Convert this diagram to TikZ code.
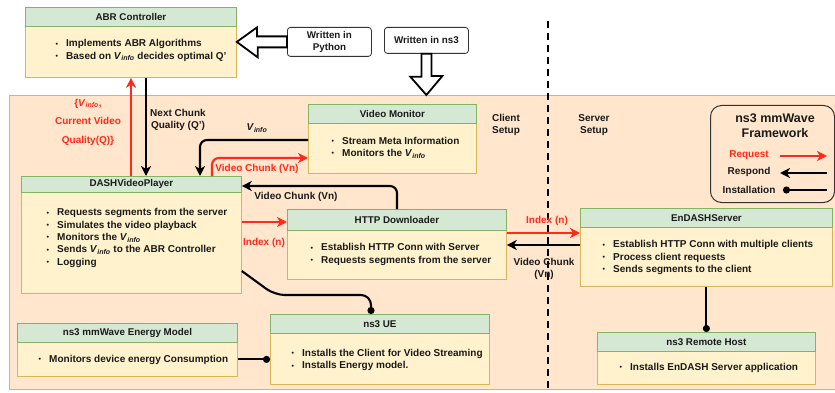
\documentclass[tikz,border=0pt]{standalone}
\usepackage{fontspec}
\setmainfont{Liberation Sans}
\usetikzlibrary{arrows.meta,calc}
\definecolor{hdrfill}{HTML}{D5E8D4}
\definecolor{hdrline}{HTML}{82B366}
\definecolor{bdyfill}{HTML}{FFF2CC}
\definecolor{bdyline}{HTML}{D6B656}
\definecolor{bgfill}{HTML}{FFE6CC}
\definecolor{bgline}{HTML}{E8B440}
\definecolor{myred}{HTML}{FF2A1A}
\definecolor{txtc}{HTML}{1A1A1A}
\definecolor{legline}{HTML}{333333}
\newcommand{\vinfo}{\textit{V}\textsubscript{\textit{info}}}
\newcommand{\blt}{\makebox[10.5pt][l]{\fontsize{7}{7}\selectfont\raisebox{0.6pt}{•}}}
\newcommand{\mycomp}[7]{%
  \node[bdy, minimum width={#4-#2}, minimum height={#6-#5}] (#1b) at (#2,#5) {};
  \node[hdr, minimum width={#4-#2}, minimum height={#5-#3}] (#1h) at (#2,#3) {#7};
}
\tikzset{
  hdr/.style={draw=hdrline, fill=hdrfill, line width=0.8pt, anchor=north west, inner sep=0pt, text=txtc, font=\bfseries\fontsize{9.8}{11}\selectfont},
  bdy/.style={draw=bdyline, fill=bdyfill, line width=0.8pt, anchor=north west, inner sep=0pt},
  txt/.style={anchor=west, inner sep=0pt, align=left, text=txtc, font=\bfseries\fontsize{10}{12.4}\selectfont},
  lbl/.style={inner sep=0pt, align=center, text=txtc, font=\bfseries\fontsize{10}{12}\selectfont},
  rlbl/.style={lbl, text=myred},
  req/.style={draw=myred, line width=2.1pt, -{Stealth[length=10pt,width=10pt,inset=3pt]}},
  resp/.style={draw=black, line width=2.1pt, -{Stealth[length=10pt,width=10pt,inset=3pt]}},
  inst/.style={draw=black, line width=2.1pt, -{Circle[length=7pt]}},
  wbox/.style={draw=legline, fill=white, rounded corners=3pt, line width=0.8pt, anchor=north west, inner sep=0pt, align=center, text=txtc, font=\bfseries\fontsize{9.8}{11.8}\selectfont},
  hollow/.style={draw=black, fill=white, line width=1.8pt, line join=miter},
  sep/.style={draw=black, line width=2.4pt, dash pattern=on 7pt off 5pt},
}
\begin{document}
\begin{tikzpicture}[x=1pt,y=-1pt]
\useasboundingbox (0,0) rectangle (835,393);
\clip (0,0) rectangle (835,393);
\fill[white] (0,0) rectangle (835,393);

% background frame
\node[draw=bgline, fill=bgfill, line width=0.9pt, anchor=north west, inner sep=0pt, minimum width=832, minimum height=294] (bg) at (9,95) {};

% client/server separator
\coordinate (dtop) at (548,21);
\coordinate (dbot) at (548,395);
\draw[sep] (dtop) -- (dbot);

% components
\mycomp{abr}{25}{7}{236}{26}{77}{ABR Controller}
\mycomp{dash}{21}{176}{241}{192}{293}{DASHVideoPlayer}
\mycomp{vm}{308}{104}{476}{123}{173}{Video Monitor}
\mycomp{http}{287}{209}{506}{230}{279}{HTTP Downloader}
\mycomp{end}{580}{208}{832}{227}{286}{EnDASHServer}
\mycomp{en}{17}{323}{237}{342}{376}{ns3 mmWave Energy Model}
\mycomp{ue}{270}{314}{489}{333}{384}{ns3 UE}
\mycomp{rh}{597}{332}{815}{351}{384}{ns3 Remote Host}

% body texts
\node[txt] (abrt) at (55.5,50.5) {\blt Implements ABR Algorithms\\\blt Based on \vinfo{} decides optimal Q'};
\node[txt] (dasht) at (46.5,238) {\blt Requests segments from the server\\\blt Simulates the video playback\\\blt Monitors the \vinfo\\\blt Sends \vinfo{} to the ABR Controller\\\blt Logging};
\node[txt] (vmt) at (331.5,147.5) {\blt Stream Meta Information\\\blt Monitors the \vinfo};
\node[txt] (httpt) at (310.5,254.5) {\blt Establish HTTP Conn with Server\\\blt Requests segments from the server};
\node[txt] (endt) at (602.5,257.5) {\blt Establish HTTP Conn with multiple clients\\\blt Process client requests\\\blt Sends segments to the client};
\node[txt] (ent) at (38.5,360) {\blt Monitors device energy Consumption};
\node[txt] (uet) at (291.5,360) {\blt Installs the Client for Video Streaming\\\blt Installs Energy model.};
\node[txt] (rht) at (619.5,368) {\blt Installs EnDASH Server application};

% written-in boxes and hollow arrows
\node[wbox, minimum width=84, minimum height=29] (py) at (287,27) {Written in\\Python};
\node[wbox, minimum width=84, minimum height=26] (ns) at (384,27) {Written in ns3};
\draw[hollow] ([yshift=5.5pt]py.west) -- ++(-30,0) -- ++(0,-9) -- (abrb.east |- py.west) -- ++(21,15.5) -- ++(0,-10) -- ([yshift=-5.5pt]py.west) -- cycle;
\draw[hollow] ([xshift=-5pt]ns.south) -- ++(0,23) -- ++(-11,0) -- (ns.south |- bg.north) -- ++(16,-19) -- ++(-11,0) -- ([xshift=5pt]ns.south) -- cycle;

% ABR <-> DASH
\draw[req] ([xshift=110pt]dashh.north west) -- ([xshift=110pt]dashh.north west |- abrb.south);
\draw[resp] ([xshift=121pt]abrb.south west) -- ([xshift=121pt]abrb.south west |- dashh.north);
\node[rlbl, font=\bfseries\fontsize{10}{18.5}\selectfont] (l1) at (88,122) {\{\vinfo,\\Current Video\\Quality(Q)\}};
\node[lbl] (l2) at (178,120) {Next Chunk\\Quality (Q')};

% Video monitor <-> DASH
\draw[resp, rounded corners=7pt] ([yshift=-17pt]vmb.north west) -| ([xshift=179pt]dashh.north west);
\node[lbl] (l3) at (257,128) {\vinfo};
\draw[req, rounded corners=7pt] ([xshift=191pt]dashh.north west) |- ([yshift=-35pt]vmb.north west);
\node[rlbl] (l4) at (257,169) {Video Chunk (Vn)};

% HTTP <-> DASH
\draw[resp, rounded corners=7pt] ([xshift=110pt]httph.north west) |- ([yshift=-10pt]dashh.north east);
\node[lbl] (l5) at (296,197) {Video Chunk (Vn)};
\draw[req] ([yshift=-30pt]dashb.north east) -- ([yshift=-30pt]dashb.north east -| httph.west);
\node[rlbl] (l6) at (264,243) {Index (n)};

% HTTP <-> EnDASH
\draw[req] ([yshift=-3pt]httpb.north east) -- ([yshift=-3pt]httpb.north east -| endb.west);
\node[rlbl] (l7) at (547,221) {Index (n)};
\draw[resp] ([yshift=-18pt]endb.north west) -- ([yshift=-18pt]endb.north west -| httpb.east);
\node[lbl] (l8) at (544,268.5) {Video Chunk\\(Vn)};

% installation links
\draw[inst, rounded corners=10pt] ([yshift=-79pt]dashb.north east) -- ++(33,24) -| ([xshift=101pt]ueh.north west);
\draw[inst] (enb.east) -- (enb.east -| ueb.west);
\draw[inst] (endb.south) -- (endb.south |- rhh.north);

% client / server labels
\node[lbl] (cs) at (506,125) {Client\\Setup};
\node[lbl] (ss) at (594,125) {Server\\Setup};

% legend
\node[draw=legline, rounded corners=11pt, line width=1pt, minimum width=124, minimum height=97, anchor=north west, inner sep=0pt] (leg) at (710,105) {};
\node[lbl, font=\bfseries\fontsize{12.5}{15}\selectfont] (legt) at (775,126) {ns3 mmWave\\Framework};
\node[rlbl] (lreq) at (749,155) {Request};
\coordinate (lra) at (780,156);
\coordinate (lrb) at (827,156);
\draw[req] (lra) -- (lrb);
\node[lbl] (lresp) at (749,172) {Respond};
\coordinate (lsa) at (827,173);
\coordinate (lsb) at (780,173);
\draw[resp] (lsa) -- (lsb);
\node[lbl] (linst) at (749,190) {Installation};
\coordinate (lia) at (827,190);
\coordinate (lib) at (783,190);
\draw[inst] (lia) -- (lib);
\end{tikzpicture}
\end{document}
